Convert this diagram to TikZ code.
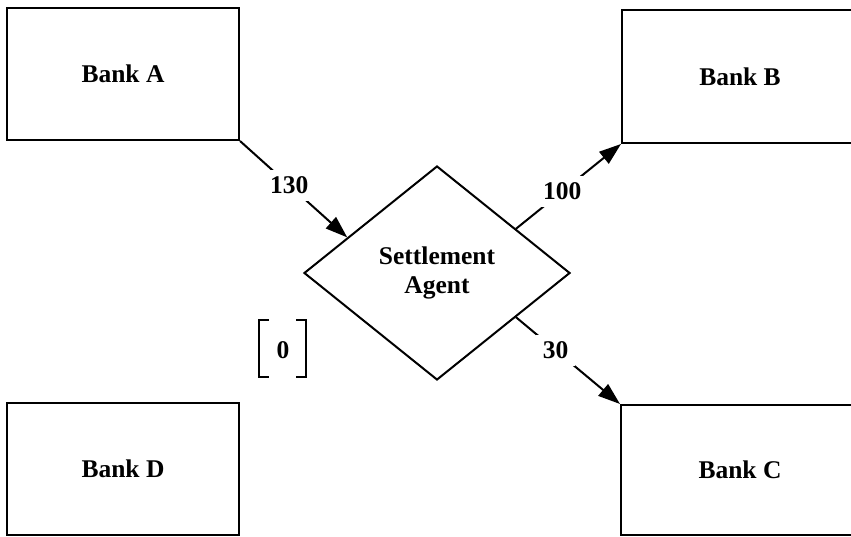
\documentclass[tikz,border=0pt]{standalone}
\usepackage{fontspec}
\setmainfont{Liberation Serif}
\usetikzlibrary{shapes.geometric,arrows.meta,calc}
\begin{document}
\begin{tikzpicture}[x=1pt,y=-1pt,
  lbl/.style={font=\bfseries\fontsize{25.5}{29}\selectfont},
  bank/.style={draw,line width=2pt,rectangle,inner sep=0pt,lbl},
  agent/.style={draw,line width=2pt,diamond,inner sep=0pt,minimum width=266pt,minimum height=214pt,aspect=1.243,lbl,align=center},
  flow/.style={line width=2pt,-{Triangle[length=22pt,width=15pt]}},
  amount/.style={lbl,fill=white,inner sep=7pt}]
\useasboundingbox (0,0) rectangle (851,537);
\node[bank,minimum width=232pt,minimum height=132pt] (A) at (123,74) {Bank A};
\node[bank,minimum width=236pt,minimum height=133pt] (B) at (740,76.5) {Bank B};
\node[bank,minimum width=238pt,minimum height=130pt] (C) at (740,470) {Bank C};
\node[bank,minimum width=232pt,minimum height=132pt] (D) at (123,469) {Bank D};
\node[agent] (S) at (437,273) {\raisebox{0pt}{Settlement}\\Agent};
\coordinate (Sin) at ($(S.west)!0.33!(S.north)$);
\coordinate (Sb) at ($(S.north)!0.59!(S.east)$);
\coordinate (Sc) at ($(S.east)!0.41!(S.south)$);
\draw[flow] (A.south east) -- node[amount,pos=0.46] (l130) {130} (Sin);
\draw[flow] (Sb) -- node[amount,pos=0.44] (l100) {100} (B.south west);
\draw[flow] (Sc) -- node[amount,pos=0.38] (l30) {30} (C.north west);
\node[lbl] (zero) at (283,350) {0};
\draw[line width=2pt] (269,320) -- (259,320) -- (259,377) -- (269,377);
\draw[line width=2pt] (296,320) -- (306,320) -- (306,377) -- (296,377);
\end{tikzpicture}
\end{document}
